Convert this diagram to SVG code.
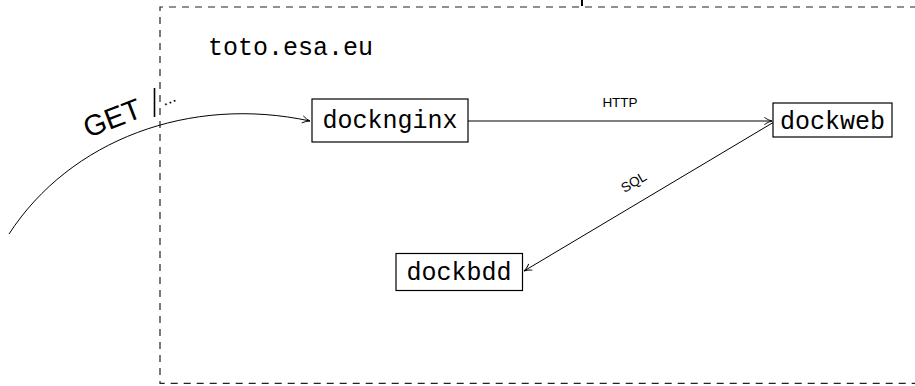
<svg xmlns="http://www.w3.org/2000/svg" width="915" height="386" viewBox="0 0 915 386">
<defs>
<marker id="arr" viewBox="0 0 10 10" refX="9.5" refY="5" markerWidth="9" markerHeight="9" markerUnits="userSpaceOnUse" orient="auto">
<path d="M1,1 Q5,4 9.5,5 Q5,6 1,9" fill="none" stroke="#000" stroke-width="1"/>
</marker>
<style>
.box{fill:#fff;stroke:#000;stroke-width:1.2}
.mono{font-family:"Liberation Mono","DejaVu Sans Mono",monospace;font-size:25px;fill:#000}
.lbl{font-family:"Liberation Sans","DejaVu Sans",sans-serif;font-size:13.5px;fill:#000}
.edge{fill:none;stroke:#000;stroke-width:1;marker-end:url(#arr)}
</style>
</defs>
<rect width="915" height="386" fill="#fff"/>
<g id="cluster">
<path d="M930,7 H160 V383.3 H930" fill="none" stroke="#222" stroke-width="1.2" stroke-dasharray="7 6"/>
<line x1="582" y1="0" x2="582" y2="6" stroke="#000" stroke-width="2"/>
<text class="mono" x="208" y="55">toto.esa.eu</text>
</g>
<g id="connectors">
<path class="edge" d="M9,234 C70,140 190,95 310,121"/>
<line class="edge" x1="468" y1="121" x2="772" y2="121"/>
<line class="edge" x1="774" y1="122" x2="524" y2="271"/>
<text class="lbl" x="620" y="107" text-anchor="middle">HTTP</text>
<text class="lbl" x="0" y="0" text-anchor="middle" transform="translate(636,186) rotate(-30.8)">SQL</text>
<text x="0" y="0" font-family="Liberation Sans, DejaVu Sans, sans-serif" font-size="29" transform="translate(88,138) rotate(-21)">GET</text>
<line x1="154.5" y1="88" x2="154.5" y2="117" stroke="#000" stroke-width="1.6"/>
<text x="0" y="0" font-family="Liberation Sans, DejaVu Sans, sans-serif" font-size="17" transform="translate(164,106) rotate(-22)">...</text>
</g>
<g id="docknginx">
<rect class="box" x="312" y="99" width="156" height="43"/>
<text class="mono" x="390" y="127.7" text-anchor="middle">docknginx</text>
</g>
<g id="dockweb">
<rect class="box" x="773" y="103" width="119" height="34"/>
<text class="mono" x="832.5" y="129" text-anchor="middle">dockweb</text>
</g>
<g id="dockbdd">
<rect class="box" x="396" y="253.5" width="126.5" height="37"/>
<text class="mono" x="459" y="280" text-anchor="middle">dockbdd</text>
</g>
</svg>
